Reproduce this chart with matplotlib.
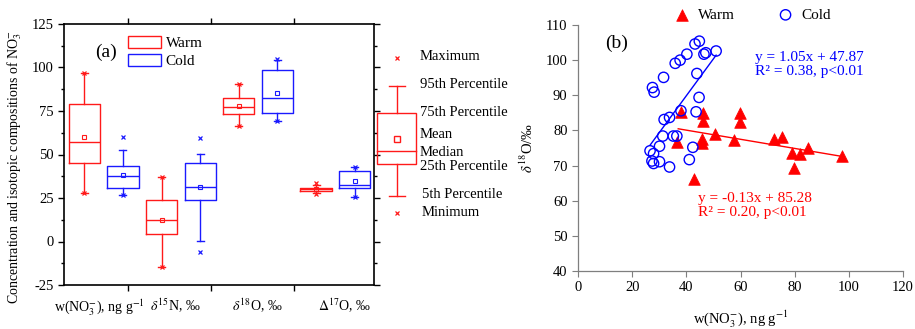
#!/usr/bin/env python3
"""
Two-panel figure: NO3- box statistics (a) and d18O vs w(NO3-) scatter (b)
"""

import matplotlib
matplotlib.use('Agg')
import matplotlib.pyplot as plt
from matplotlib.patches import Patch, Rectangle
import numpy as np

plt.rcParams['font.family'] = ['Liberation Serif', 'DejaVu Serif']
plt.rcParams['mathtext.fontset'] = 'stix'
plt.rcParams['axes.unicode_minus'] = False

# ---- panel (a): box statistics, order w(NO3-), d15N, d18O, D17O ----
group_labels = [r'w(NO$_3^{-}$), ng g$^{-1}$', r'$\delta^{15}$N, ‰',
                r'$\delta^{18}$O, ‰', r'$\Delta^{17}$O, ‰']

warm_min = [28.1, -14.7, 66.5, 27.2]
warm_p5 = [28.1, -14.7, 66.5, 28.0]
warm_q1 = [45.0, 4.5, 73.2, 29.1]
warm_med = [57.1, 12.2, 77.4, 30.1]
warm_mean = [60.2, 12.6, 77.6, 30.0]
warm_q3 = [79.2, 23.7, 82.4, 31.0]
warm_p95 = [96.8, 37.3, 90.5, 32.5]
warm_max = [96.8, 37.3, 90.5, 33.6]

cold_min = [26.6, -6.0, 69.4, 25.3]
cold_p5 = [26.6, 0.3, 69.4, 25.3]
cold_q1 = [31.0, 23.7, 73.6, 30.7]
cold_med = [37.5, 31.2, 82.4, 32.4]
cold_mean = [38.3, 31.4, 85.5, 35.0]
cold_q3 = [43.5, 45.0, 98.5, 40.6]
cold_p95 = [52.3, 50.2, 104.1, 42.8]
cold_max = [60.2, 59.2, 105.0, 42.8]

key_labels = ['Maximum', '95th Percentile', '75th Percentile', 'Mean',
              'Median', '25th Percentile', '5th Percentile', 'Minimum']

# ---- panel (b): scatter ----
warm_x = [38.0, 46.3, 46.3, 59.8, 59.8, 36.5, 45.7, 45.7, 50.4, 57.7,
          72.5, 75.2, 79.1, 81.9, 84.8, 79.8, 97.3, 43.0]
warm_y = [85.3, 85.0, 82.7, 85.1, 82.3, 76.8, 77.7, 76.5, 79.0, 77.2,
          77.7, 78.0, 73.6, 73.2, 75.0, 69.2, 72.7, 66.3]

cold_x = [44.8, 43.2, 51.0, 47.2, 46.5, 40.2, 37.7, 35.9, 31.6, 43.9,
          27.5, 28.1, 44.7, 38.0, 43.6, 31.8, 33.8, 35.2, 36.5, 31.3,
          30.1, 26.6, 27.9, 42.4, 41.1, 27.3, 27.9, 30.1, 33.8]
cold_y = [105.4, 104.6, 102.6, 102.1, 101.7, 101.7, 100.0, 99.1, 95.1, 96.2,
          92.2, 90.9, 89.4, 85.6, 85.3, 83.1, 83.7, 78.4, 78.4, 78.4,
          75.5, 74.2, 73.4, 75.2, 71.7, 71.3, 70.6, 71.1, 69.6]

warm_fit = (-0.13, 85.28)
cold_fit = (1.05, 47.87)

RED = '#ff1a1a'
BLUE = '#1a1aff'


def make_stats(i, mn, p5, q1, med, mean, q3, p95, mx):
    return dict(med=med[i], q1=q1[i], q3=q3[i], whislo=p5[i], whishi=p95[i],
                mean=mean[i], fliers=[mn[i], mx[i]])


fig = plt.figure(figsize=(9.15, 3.29), dpi=100)

# ================= panel (a) =================
ax = fig.add_axes([64 / 915, 1 - 285 / 329, 310 / 915, 261 / 329])

for series, color, offset in [
        ((warm_min, warm_p5, warm_q1, warm_med, warm_mean, warm_q3, warm_p95, warm_max), RED, 1),
        ((cold_min, cold_p5, cold_q1, cold_med, cold_mean, cold_q3, cold_p95, cold_max), BLUE, 2)]:
    stats = [make_stats(i, *series) for i in range(len(group_labels))]
    pos = [2 * i + offset for i in range(len(group_labels))]
    ax.bxp(stats, positions=pos, widths=0.81, capwidths=0.18, showmeans=True,
           boxprops=dict(color=color, lw=1.0),
           medianprops=dict(color=color, lw=1.0),
           whiskerprops=dict(color=color, lw=1.0),
           capprops=dict(color=color, lw=1.0),
           meanprops=dict(marker='s', markersize=3, mfc='none', mec=color, mew=0.8),
           flierprops=dict(marker='x', markersize=3, mec=color, mew=0.9))

ax.set_xlim(0.475, 8.5)
ax.set_ylim(-25, 125)
ax.set_yticks(np.arange(-25, 126, 25))
ax.set_yticks(np.arange(-12.5, 125, 25), minor=True)
ax.set_xticks([2.13, 4.28, 6.43])
ax.set_xticklabels([])
ax.tick_params(axis='y', which='major', direction='out', length=4, width=1,
               labelsize=10.5, right=True)
ax.tick_params(axis='y', which='minor', direction='out', length=2.5, width=1, right=True)
ax.tick_params(axis='x', which='major', direction='out', length=4, width=1, top=True)
for sp in ax.spines.values():
    sp.set_linewidth(1.2)

# group labels under the axis
label_x = [1.38, 3.35, 5.47, 7.73]
for xc, lab in zip(label_x, group_labels):
    ax.text(xc, -32, lab, ha='center', va='top', fontsize=10)

ax.set_ylabel(r'Concentration and isotopic compositions of NO$_3^{-}$', fontsize=10)
ax.yaxis.set_label_coords(-0.13, 0.45)

ax.text(0.135, 0.89, '(a)', transform=ax.transAxes, fontsize=14, ha='center', va='center')

handles = [Patch(facecolor='none', edgecolor=RED, lw=1.0),
           Patch(facecolor='none', edgecolor=BLUE, lw=1.0)]
ax.legend(handles, ['Warm', 'Cold'], loc='upper left', bbox_to_anchor=(0.205, 0.955),
          frameon=False, fontsize=11, handlelength=2.2, handleheight=0.85,
          handletextpad=0.3, labelspacing=0.25, borderpad=0, borderaxespad=0)

# key for the box symbols (pixel layout)
kax = fig.add_axes([370 / 915, 1 - 230 / 329, 170 / 915, 190 / 329])
kax.set_xlim(370, 540)
kax.set_ylim(230, 40)
kax.axis('off')
kx = 396.5
kax.plot([kx], [58], marker='x', ms=3, mec=RED, mew=0.9, ls='none')
kax.plot([kx], [213], marker='x', ms=3, mec=RED, mew=0.9, ls='none')
kax.plot([kx, kx], [86, 113], color=RED, lw=1)
kax.plot([kx, kx], [164, 196], color=RED, lw=1)
kax.plot([kx - 8, kx + 8], [86, 86], color=RED, lw=1)
kax.plot([kx - 8, kx + 8], [196, 196], color=RED, lw=1)
kax.add_patch(Rectangle((377, 113), 39, 51, fill=False, edgecolor=RED, lw=1))
kax.plot([377, 416], [151, 151], color=RED, lw=1)
kax.plot([kx], [139], marker='s', ms=5, mfc='none', mec=RED, mew=1)
key_y = [57, 85, 113, 135, 152, 166, 195, 213]
key_x = [420, 420, 420, 420, 420, 420, 422, 422]
for lab, yy, xx in zip(key_labels, key_y, key_x):
    kax.text(xx, yy, lab, fontsize=10.5, va='center', ha='left')

# ================= panel (b) =================
bx = fig.add_axes([578 / 915, 1 - 271 / 329, 325 / 915, 246 / 329])
bx.scatter(warm_x, warm_y, marker='^', s=70, color='red', edgecolor='red', lw=0.5,
           label='Warm', zorder=3)
bx.scatter(cold_x, cold_y, marker='o', s=55, facecolor='none', edgecolor='blue', lw=1.0,
           label='Cold', zorder=3)

xw = np.array([min(warm_x) + 0.5, max(warm_x)])
bx.plot(xw, warm_fit[0] * xw + warm_fit[1], color='red', lw=1.0, zorder=2)
xc = np.array([min(cold_x), max(cold_x)])
bx.plot(xc, cold_fit[0] * xc + cold_fit[1], color='blue', lw=1.0, zorder=2)

bx.set_xlim(0, 120)
bx.set_ylim(40, 110)
bx.set_xticks(np.arange(0, 121, 20))
bx.set_yticks(np.arange(40, 111, 10))
bx.spines['top'].set_visible(False)
bx.spines['right'].set_visible(False)
for s in ['left', 'bottom']:
    bx.spines[s].set_color('#7f7f7f')
    bx.spines[s].set_linewidth(0.9)
bx.tick_params(direction='out', length=4, color='#7f7f7f', labelsize=10.5)

bx.set_xlabel(r'w(NO$_3^{-}$), ng g$^{-1}$', fontsize=10.5, labelpad=10)
bx.set_ylabel(r'$\delta^{18}$O/‰', fontsize=10.5)
bx.yaxis.set_label_coords(-0.13, 0.5)

bx.text(0.12, 0.927, '(b)', transform=bx.transAxes, fontsize=14, ha='center', va='center')
bx.text(0.545, 0.84, 'y = 1.05x + 47.87\nR² = 0.38, p<0.01', transform=bx.transAxes,
        color='blue', fontsize=11, ha='left', va='center', linespacing=1.1)
bx.text(0.369, 0.268, 'y = -0.13x + 85.28\nR² = 0.20, p<0.01', transform=bx.transAxes,
        color='red', fontsize=11, ha='left', va='center', linespacing=1.1)

fig.legend(*bx.get_legend_handles_labels(), loc='center', bbox_to_anchor=(749 / 915, 1 - 15 / 329),
           ncol=2, frameon=False, fontsize=11, handletextpad=0.05, columnspacing=2.3,
           borderaxespad=0, borderpad=0)

fig.savefig('out.png', dpi=100)
plt.close(fig)
